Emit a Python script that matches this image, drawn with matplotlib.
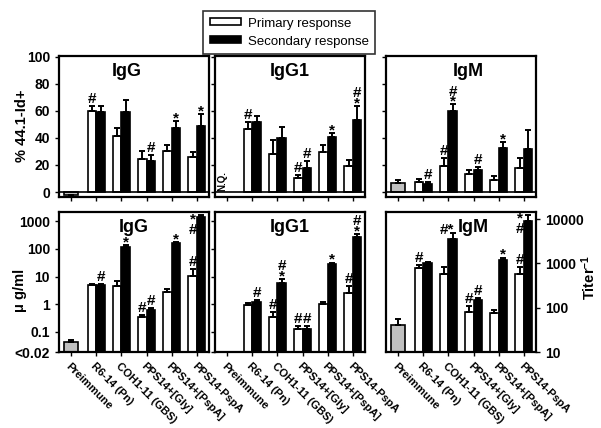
import numpy as np
import matplotlib
matplotlib.use("Agg")
import matplotlib.pyplot as plt
from matplotlib.patches import Patch
from matplotlib.ticker import NullLocator

plt.rcParams['font.family'] = ['Liberation Sans', 'DejaVu Sans']
plt.rcParams['font.weight'] = 'bold'
plt.rcParams['mathtext.fontset'] = 'custom'
plt.rcParams['mathtext.bf'] = 'Liberation Sans:bold'
plt.rcParams['mathtext.rm'] = 'Liberation Sans:bold'
plt.rcParams['mathtext.default'] = 'bf'

# --- data ---
groups = ["Preimmune", "R6-14 (Pn)", "COH1-11 (GBS)", "PPS14+[Gly]", "PPS14+[PspA]", "PPS14-PspA"]

# % 44.1-Id+ (top row)
pct_igg_pre, pct_igg_pre_err = -2.0, 1.5
pct_igg_pri = [60, 41.5, 24.7, 30, 26]
pct_igg_pri_err = [4, 6, 6, 4.5, 3.5]
pct_igg_sec = [59.5, 59, 22.7, 47.6, 48.6]
pct_igg_sec_err = [4, 9, 5, 5, 9]

pct_igg1_pri = [47, 28.4, 10.6, 29.6, 19]
pct_igg1_pri_err = [4.5, 10, 2, 5, 5]
pct_igg1_sec = [52, 40, 17.8, 40.7, 53]
pct_igg1_sec_err = [4.5, 8.5, 5, 3, 10.5]

pct_igm_pre, pct_igm_pre_err = 6.7, 2.0
pct_igm_pri = [7.4, 19.3, 13.6, 9.1, 18]
pct_igm_pri_err = [2, 6, 2.5, 2.5, 7]
pct_igm_sec = [6.2, 59.8, 16.5, 32.8, 32]
pct_igm_sec_err = [1.2, 5, 2, 4, 14]

# ug/ml (bottom row, IgG and IgG1)
ug_igg_pre, ug_igg_pre_err = 0.042, 0.009
ug_igg_pri = [4.8, 4.6, 0.34, 2.9, 10.9]
ug_igg_pri_err = [0.6, 2.6, 0.07, 0.6, 8]
ug_igg_sec = [4.8, 121, 0.62, 160, 1475]
ug_igg_sec_err = [0.5, 18, 0.1, 18, 225]

ug_igg1_pri = [0.95, 0.36, 0.125, 1.03, 2.64]
ug_igg1_pri_err = [0.2, 0.18, 0.04, 0.22, 2.0]
ug_igg1_sec = [1.18, 6.1, 0.125, 28.7, 264]
ug_igg1_sec_err = [0.25, 1.9, 0.04, 3.3, 75]

# Titer^-1 (bottom row, IgM)
titer_igm_pre, titer_igm_pre_err = 41.5, 15
titer_igm_pri = [792, 590, 80, 77.5, 570]
titer_igm_pri_err = [118, 245, 27, 13, 265]
titer_igm_sec = [1030, 3480, 152, 1180, 9100]
titer_igm_sec_err = [60, 1420, 14, 170, 3200]

# significance marks: (group, bar, text)
marks_top_igg = [(1, 'pri', '#'), (3, 'sec', '#'), (4, 'sec', '*'), (5, 'sec', '*')]
marks_top_igg1 = [(1, 'pri', '#'), (3, 'pri', '#'), (3, 'sec', '#'), (4, 'sec', '*'), (5, 'sec', '#\n*')]
marks_top_igm = [(1, 'sec', '#'), (2, 'pri', '#'), (2, 'sec', '#\n*'), (3, 'sec', '#'), (4, 'sec', '*')]
marks_bot_igg = [(1, 'sec', '#'), (2, 'sec', '*'), (3, 'pri', '#'), (3, 'sec', '#'),
                 (4, 'sec', '*'), (5, 'pri', '#')]
marks_bot_igg1 = [(1, 'sec', '#'), (2, 'pri', '#'), (2, 'sec', '#\n*'), (3, 'pri', '#'),
                  (3, 'sec', '#'), (4, 'sec', '*'), (5, 'pri', '#'), (5, 'sec', '#\n*')]
marks_bot_igm = [(1, 'pri', '#'), (2, 'sec', '#*'), (3, 'pri', '#'), (3, 'sec', '#'),
                 (4, 'sec', '*'), (5, 'pri', '#')]

W = 0.34      # paired bar width
W_PRE = 0.56  # preimmune bar width
MARK_FS = 11


def rect(x0, y0, x1, y1):
    # pixel box -> figure fraction
    return [x0 / 601, 1 - y1 / 428, (x1 - x0) / 601, (y1 - y0) / 428]


def draw_panel(ax, pre, pre_err, pri, pri_err, sec, sec_err, marks, base):
    x = np.arange(1, 6)
    pri = np.array(pri, float)
    sec = np.array(sec, float)
    z = np.zeros(5)
    if pre is not None:
        ax.bar(0, pre - base, bottom=base, width=W_PRE, color='#c0c0c0', edgecolor='black', lw=1.2, zorder=2)
        e = [[pre_err], [0]] if pre < 0 else [[0], [pre_err]]
        ax.errorbar(0, pre, yerr=e, fmt='none', ecolor='black', elinewidth=1.4,
                    capsize=2.2, capthick=1.4, zorder=3)
    ax.bar(x - W / 2, pri - base, bottom=base, width=W, color='white', edgecolor='black', lw=1.2, zorder=2)
    ax.bar(x + W / 2, sec - base, bottom=base, width=W, color='black', edgecolor='black', lw=1.2, zorder=2)
    ax.errorbar(x - W / 2, pri, yerr=[z, pri_err], fmt='none', ecolor='black', elinewidth=1.4,
                capsize=2.2, capthick=1.4, zorder=3)
    ax.errorbar(x + W / 2, sec, yerr=[z, sec_err], fmt='none', ecolor='black', elinewidth=1.4,
                capsize=2.2, capthick=1.4, zorder=3)
    for g, which, txt in marks:
        if which == 'pri':
            xx, yy = g - W / 2, pri[g - 1] + pri_err[g - 1]
        else:
            xx, yy = g + W / 2, sec[g - 1] + sec_err[g - 1]
        dy = -3 if txt.endswith('*') else 0
        dx = -4 if txt == '#*' else 0
        ax.annotate(txt, (xx, yy), xytext=(dx, dy), textcoords='offset points',
                    ha='center', va='bottom', fontsize=MARK_FS, fontweight='bold',
                    linespacing=0.65, zorder=4)


def style(ax, title, tx=0.5):
    ax.set_xlim(-0.48, 5.48)
    for s in ax.spines.values():
        s.set_linewidth(1.6)
    ax.tick_params(direction='out', length=3, width=1, labelsize=10)
    ax.set_xticks(range(6))
    ax.text(tx, 0.95, title, transform=ax.transAxes, ha='center', va='top',
            fontsize=13, fontweight='bold', zorder=5)


fig = plt.figure(figsize=(6.01, 4.28), dpi=100)

xs = [59, 215, 386]
top_axes = [fig.add_axes(rect(x0, 56, x0 + 150, 197)) for x0 in xs]
bot_axes = [fig.add_axes(rect(x0, 212, x0 + 150, 352)) for x0 in xs]

# --- top row: % 44.1-Id+ ---
draw_panel(top_axes[0], pct_igg_pre, pct_igg_pre_err, pct_igg_pri, pct_igg_pri_err,
           pct_igg_sec, pct_igg_sec_err, marks_top_igg, 0)
draw_panel(top_axes[1], None, None, pct_igg1_pri, pct_igg1_pri_err,
           pct_igg1_sec, pct_igg1_sec_err, marks_top_igg1, 0)
draw_panel(top_axes[2], pct_igm_pre, pct_igm_pre_err, pct_igm_pri, pct_igm_pri_err,
           pct_igm_sec, pct_igm_sec_err, marks_top_igm, 0)
for ax, t, tx in zip(top_axes, ["IgG", "IgG1", "IgM"], [0.45, 0.5, 0.55]):
    style(ax, t, tx)
    ax.set_ylim(-3.7, 100.7)
    ax.set_yticks([0, 20, 40, 60, 80, 100])
    ax.axhline(0, color='black', lw=1.2, zorder=3)
    ax.set_xticklabels([])
for ax in top_axes[1:]:
    ax.set_yticklabels([])
top_axes[1].text(-0.2, 1.0, "N.Q.", rotation=90, ha='center', va='bottom', fontsize=7, fontweight='bold')

# --- bottom row: ug/ml and titer ---
draw_panel(bot_axes[0], ug_igg_pre, ug_igg_pre_err, ug_igg_pri, ug_igg_pri_err,
           ug_igg_sec, ug_igg_sec_err, marks_bot_igg, 1e-3)
draw_panel(bot_axes[1], None, None, ug_igg1_pri, ug_igg1_pri_err,
           ug_igg1_sec, ug_igg1_sec_err, marks_bot_igg1, 1e-3)
draw_panel(bot_axes[2], titer_igm_pre, titer_igm_pre_err, titer_igm_pri, titer_igm_pri_err,
           titer_igm_sec, titer_igm_sec_err, marks_bot_igm, 1)
# stacked marks where the bar reaches the top of the frame
bot_axes[0].text(5 - W / 2, 270, "*\n#", ha='center', va='bottom', fontsize=MARK_FS,
                 fontweight='bold', linespacing=0.65, zorder=4)
bot_axes[2].text(5 - W / 2, 4200, "*\n#", ha='center', va='bottom', fontsize=MARK_FS,
                 fontweight='bold', linespacing=0.65, zorder=4)

for ax, t, tx in zip(bot_axes, ["IgG", "IgG1", "IgM"], [0.5, 0.5, 0.585]):
    style(ax, t, tx)
    ax.set_yscale('log')
    ax.set_xticklabels(groups, rotation=-45, ha='left', va='top', rotation_mode='anchor', fontsize=8)
for ax in bot_axes[:2]:
    ax.set_ylim(0.0189, 2170)
    ax.set_yticks([0.0189, 0.1, 1, 10, 100, 1000])
    ax.yaxis.set_minor_locator(NullLocator())
bot_axes[0].set_yticklabels(['<0.02', '0.1', '1', '10', '100', '1000'])
bot_axes[1].set_yticklabels([])

ax = bot_axes[2]
ax.set_ylim(10, 14500)
ax.yaxis.tick_right()
ax.set_yticks([10, 100, 1000, 10000])
ax.set_yticklabels(['10', '100', '1000', '10000'])
ax.yaxis.set_minor_locator(NullLocator())

# axis labels
fig.text(22 / 601, 1 - 126 / 428, "% 44.1-Id+", rotation=90, ha='center', va='center', fontsize=10.5)
fig.text(20 / 601, 1 - 290 / 428, "μ g/ml", rotation=90, ha='center', va='center', fontsize=10.5)
fig.text(589 / 601, 1 - 277 / 428, "Titer$^{-1}$", rotation=90, ha='center', va='center', fontsize=10.5)

# legend
handles = [Patch(facecolor='white', edgecolor='black', lw=1.2, label='Primary response'),
           Patch(facecolor='black', edgecolor='black', lw=1.2, label='Secondary response')]
leg = fig.legend(handles=handles, loc='upper left', bbox_to_anchor=(203 / 601, 1 - 11 / 428),
                 frameon=True, fancybox=False, edgecolor='black', prop={'size': 9.5, 'weight': 'normal'},
                 handlelength=2.4, handleheight=0.45, handletextpad=0.5, labelspacing=0.45,
                 borderpad=0.5, borderaxespad=0)
leg.get_frame().set_linewidth(1.2)

fig.savefig("out.png", dpi=100)
